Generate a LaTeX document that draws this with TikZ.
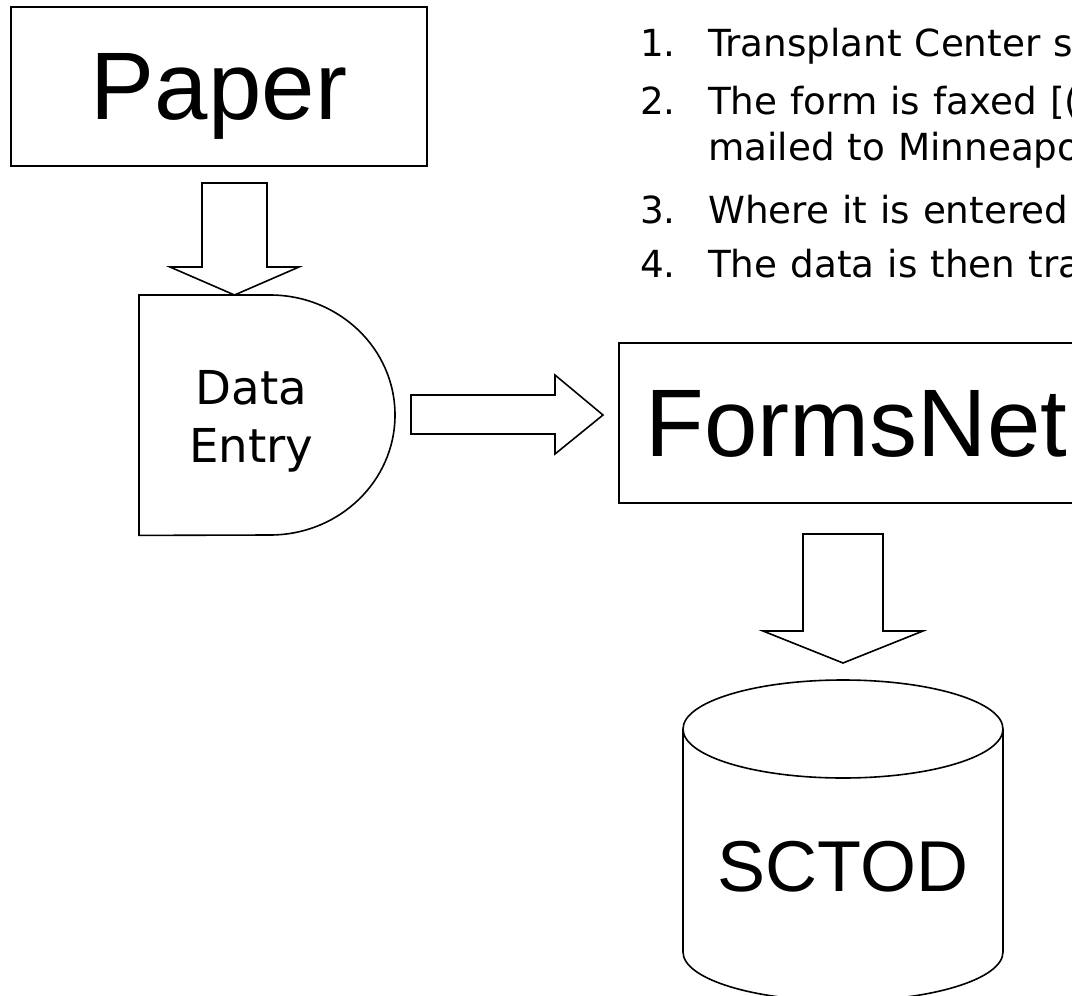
\documentclass[tikz,border=0pt]{standalone}
\usepackage{fontspec}
\setmainfont{Liberation Sans}
\newfontfamily\verd[WordSpace=1.1]{DejaVu Sans}
\usetikzlibrary{calc}
\tikzset{
  box/.style={draw, line width=2.2pt, inner sep=0pt, text depth=0pt},
  blockarrow/.style={draw, line width=1.6pt, fill=white, line join=miter},
  shapeline/.style={draw, line width=1.6pt},
  listitem/.style={anchor=base west, inner sep=0pt, font=\verd\fontsize{37.3}{44}\selectfont},
}
\begin{document}
\begin{tikzpicture}[x=1pt, y=-1pt]
\path[use as bounding box, clip] (0,0) rectangle (1072,996);
\fill[white] (0,0) rectangle (1072,996);

% Paper box
\node[box, minimum width=416pt, minimum height=159pt, font=\fontsize{96}{96}\selectfont] (paper) at (219,86.5) {Paper};

% Data entry (delay shape)
\node[minimum width=256pt, minimum height=240pt, inner sep=0pt, anchor=north west] (data) at (139,295) {};
\draw[shapeline] (data.north west) -- ++(131,0)
  arc[start angle=-90, end angle=90, x radius=125, y radius=120]
  -- (data.south west) -- cycle;
\node[inner sep=0pt, align=center, font=\verd\fontsize{46.7}{58}\selectfont] (datatext) at ($(data.center)+(-16,6)$) {Data\\Entry};

% FormsNet box
\node[box, minimum width=475pt, minimum height=160pt, font=\fontsize{96}{96}\selectfont] (forms) at (856.5,423) {FormsNet};

% SCTOD cylinder
\coordinate (cyltop) at (843,729);
\draw[shapeline] ($(cyltop)+(-160,0)$) -- ($(cyltop)+(-160,223)$)
  arc[start angle=180, end angle=0, x radius=160, y radius=49]
  -- ($(cyltop)+(160,0)$);
\draw[shapeline] (cyltop) ellipse[x radius=160, y radius=49];
\node[inner sep=0pt, text depth=0pt, font=\fontsize{72}{72}\selectfont] (sctod) at (843,866) {SCTOD};

% Block arrows
\draw[blockarrow] (202,183) -- (267,183) -- (267,267) -- (299,267) -- (234.5,295) -- (170,267) -- (202,267) -- cycle;
\draw[blockarrow] (411,395) -- (555,395) -- (555,375) -- (603,415) -- (555,454) -- (555,434) -- (411,434) -- cycle;
\draw[blockarrow] (803,534) -- (883,534) -- (883,631) -- (923,631) -- (843,663) -- (763,631) -- (803,631) -- cycle;

% Numbered list
\node[listitem] (n1) at (640,56) {1.};
\node[listitem] (t1) at (708,56) {Transplant Center s};
\node[listitem] (n2) at (640,114) {2.};
\node[listitem] (t2) at (708,114) {The form is faxed [(};
\node[listitem] (t2b) at (708,160) {mailed to Minneapo};
\node[listitem] (n3) at (640,223) {3.};
\node[listitem] (t3) at (708,223) {Where it is entered};
\node[listitem] (n4) at (640,277) {4.};
\node[listitem] (t4) at (708,277) {The data is then tra};
\end{tikzpicture}
\end{document}
